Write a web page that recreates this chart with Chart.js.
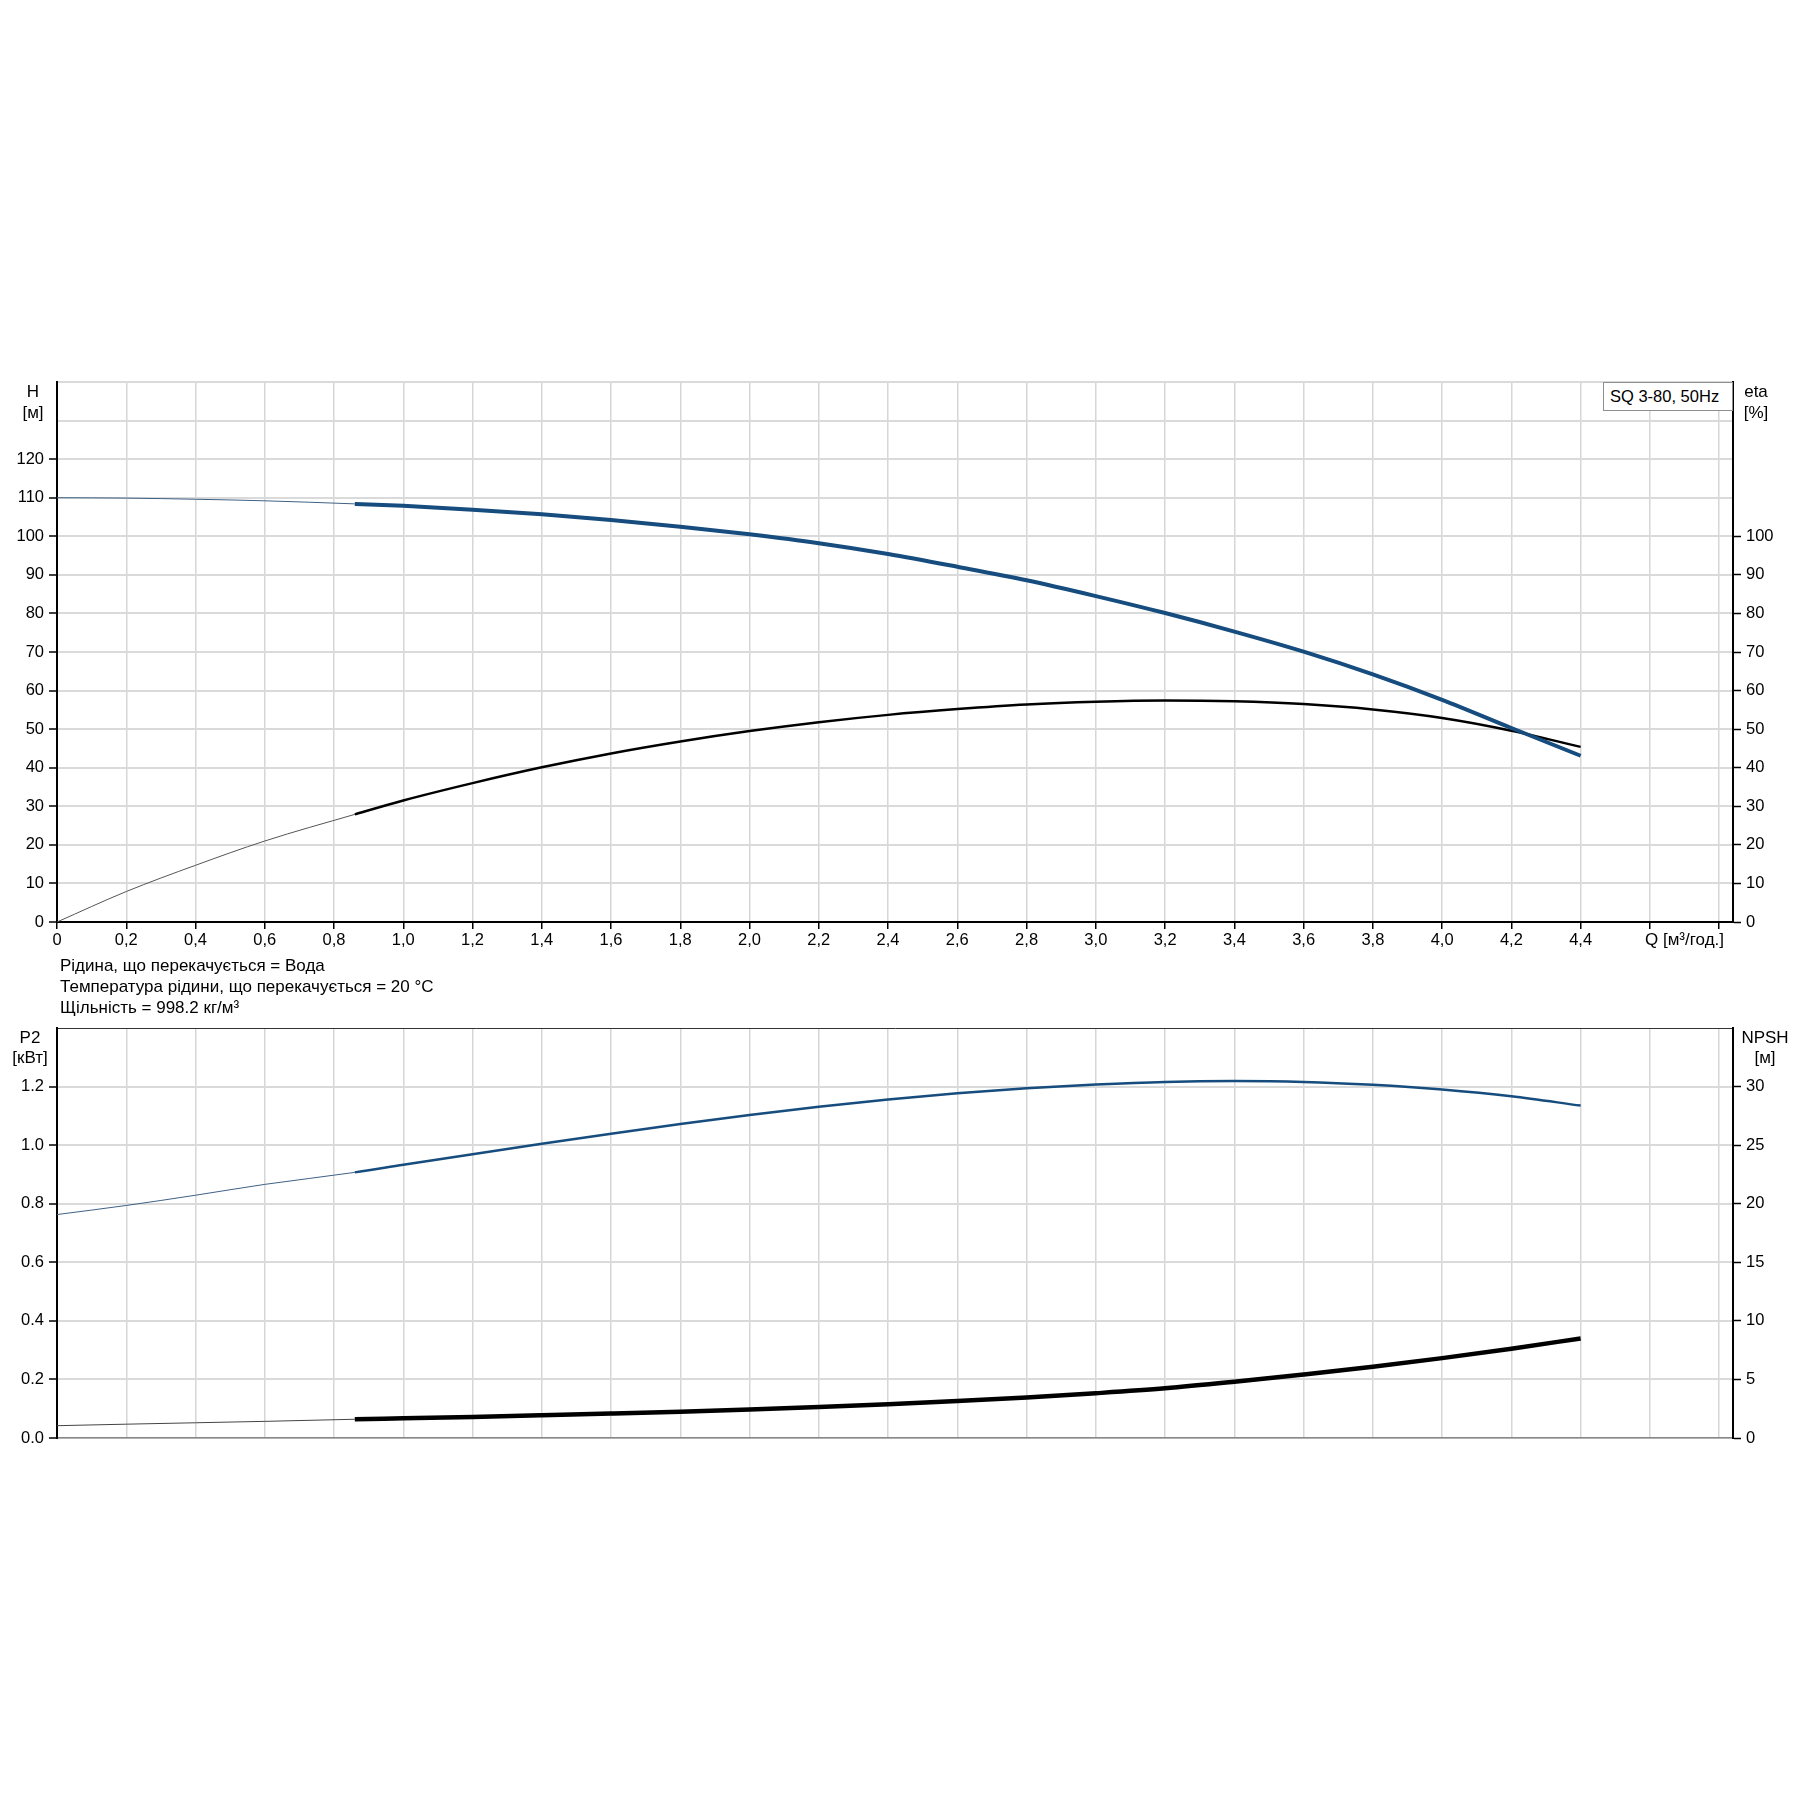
<!DOCTYPE html>
<html>
<head>
<meta charset="utf-8">
<script src="https://cdn.jsdelivr.net/npm/chart.js@4.4.1/dist/chart.umd.min.js"></script>
<style>
  html, body { margin: 0; padding: 0; background: #fff; }
  body { width: 1795px; height: 1795px; position: relative; overflow: hidden;
         font-family: 'Liberation Sans', Arial, sans-serif; color: #000; }
  .wrap { position: absolute; left: 0; width: 1795px; }
  #head-wrap { top: 330px; height: 650px; }
  #power-wrap { top: 980px; height: 500px; }
  .lbl { position: absolute; font-size: 17px; line-height: 20px; white-space: nowrap; z-index: 2; }
  .mid { transform: translateX(-50%); text-align: center; }
  #pump-name { position: absolute; left: 1603px; top: 382px; width: 130px; height: 29px;
               border: 1px solid #8e8e8e; background: #fff; font-size: 16.5px; line-height: 27px;
               padding-left: 6px; box-sizing: border-box; z-index: 2; }
</style>
</head>
<body>
<div class="wrap" id="head-wrap"><canvas id="head-chart" width="1795" height="650"></canvas></div>
<div class="wrap" id="power-wrap"><canvas id="power-chart" width="1795" height="500"></canvas></div>

<div class="lbl mid" style="left:33px; top:382px;">H</div>
<div class="lbl mid" style="left:33px; top:403px;">[м]</div>
<div class="lbl mid" style="left:1756px; top:382px;">eta</div>
<div class="lbl mid" style="left:1756px; top:403px;">[%]</div>
<div id="pump-name">SQ 3-80, 50Hz</div>
<div class="lbl" style="left:1645px; top:930px;">Q [м³/год.]</div>

<div class="lbl" style="left:60px; top:956px;">Рідина, що перекачується = Вода</div>
<div class="lbl" style="left:60px; top:977px;">Температура рідини, що перекачується = 20 °C</div>
<div class="lbl" style="left:60px; top:998px;">Щільність = 998.2 кг/м³</div>

<div class="lbl mid" style="left:30px; top:1028px;">P2</div>
<div class="lbl mid" style="left:30px; top:1048px;">[кВт]</div>
<div class="lbl mid" style="left:1765px; top:1028px;">NPSH</div>
<div class="lbl mid" style="left:1765px; top:1048px;">[м]</div>

<script>
// flow points (m3/h), the duty range starts at thinEnd
const flowQ = [0, 0.2, 0.4, 0.6, 0.86, 1.0, 1.2, 1.4, 1.6, 1.8, 2.0, 2.2, 2.4, 2.6, 2.8, 3.0, 3.2, 3.4, 3.6, 3.8, 4.0, 4.2, 4.4];
const thinEnd = 0.86;

const headH = [110, 109.9, 109.6, 109.2, 108.4, 107.9, 106.9, 105.7, 104.2, 102.5, 100.5, 98.2, 95.4, 92.1, 88.6, 84.5, 80.1, 75.3, 70.1, 64.2, 57.6, 50.3, 43.1];
const etaPct = [0, 7.9, 14.7, 21.0, 27.9, 31.5, 36.0, 40.1, 43.7, 46.8, 49.5, 51.8, 53.7, 55.2, 56.4, 57.1, 57.4, 57.2, 56.5, 55.1, 52.9, 49.6, 45.4];
const powerP2 = [0.763, 0.794, 0.829, 0.866, 0.907, 0.933, 0.969, 1.005, 1.039, 1.072, 1.103, 1.131, 1.156, 1.177, 1.194, 1.207, 1.216, 1.219, 1.216, 1.206, 1.190, 1.167, 1.135];
const npshM = [1.05, 1.18, 1.30, 1.42, 1.60, 1.68, 1.80, 1.94, 2.09, 2.25, 2.43, 2.64, 2.88, 3.15, 3.46, 3.82, 4.24, 4.80, 5.42, 6.08, 6.82, 7.62, 8.5];

// tick values and labels
const qTicks = [0, 0.2, 0.4, 0.6, 0.8, 1.0, 1.2, 1.4, 1.6, 1.8, 2.0, 2.2, 2.4, 2.6, 2.8, 3.0, 3.2, 3.4, 3.6, 3.8, 4.0, 4.2, 4.4, 4.6, 4.8];
const qLabels = ['0', '0,2', '0,4', '0,6', '0,8', '1,0', '1,2', '1,4', '1,6', '1,8', '2,0', '2,2', '2,4', '2,6', '2,8', '3,0', '3,2', '3,4', '3,6', '3,8', '4,0', '4,2', '4,4', '', ''];
const hTicks = [0, 10, 20, 30, 40, 50, 60, 70, 80, 90, 100, 110, 120, 130, 140];
const hLabels = ['0', '10', '20', '30', '40', '50', '60', '70', '80', '90', '100', '110', '120', '', ''];
const etaLabels = ['0', '10', '20', '30', '40', '50', '60', '70', '80', '90', '100', '', '', '', ''];
const p2Ticks = [0, 0.2, 0.4, 0.6, 0.8, 1.0, 1.2, 1.4];
const p2Labels = ['0.0', '0.2', '0.4', '0.6', '0.8', '1.0', '1.2', ''];
const npshTicks = [0, 5, 10, 15, 20, 25, 30, 35];
const npshLabels = ['0', '5', '10', '15', '20', '25', '30', ''];

const BLUE = '#164c7e';
const GRID_H = '#dadada';
const GRID_V = '#d6d6d6';

Chart.defaults.font = { family: "'Liberation Sans', Arial, sans-serif", size: 16.5 };
Chart.defaults.color = '#000';

function points(values) {
    return flowQ.map((q, i) => ({ x: q, y: values[i] }));
}

function curve(values, axis, thinColor, color, width) {
    return {
        data: points(values),
        yAxisID: axis,
        borderColor: color,
        borderWidth: width,
        pointRadius: 0,
        cubicInterpolationMode: 'monotone',
        segment: {
            borderWidth: ctx => ctx.p0.parsed.x < thinEnd ? 1 : width,
            borderColor: ctx => ctx.p0.parsed.x < thinEnd ? thinColor : color
        }
    };
}

function fixedTicks(values) {
    return axis => { axis.ticks = values.map(v => ({ value: v })); };
}

function markColor(labels) {
    return ctx => labels[ctx.index] ? '#000' : 'rgba(0,0,0,0)';
}

const headChart = new Chart(document.getElementById('head-chart'), {
    type: 'line',
    data: {
        datasets: [
            curve(headH, 'h', '#3f6184', BLUE, 4),
            curve(etaPct, 'eta', '#555', '#000', 2.5)
        ]
    },
    options: {
        responsive: false,
        animation: false,
        layout: { padding: { top: 52, left: 0, right: 0, bottom: 0 } },
        plugins: { legend: { display: false }, tooltip: { enabled: false } },
        scales: {
            x: {
                type: 'linear', min: 0, max: 4.84,
                afterBuildTicks: fixedTicks(qTicks),
                afterFit: s => { s.height = 58; },
                border: { color: '#000', width: 2 },
                grid: { color: GRID_V, lineWidth: 1.5, tickLength: 7, tickColor: '#000', tickWidth: 1.5 },
                ticks: { padding: 2, maxRotation: 0, autoSkip: false, callback: (v, i) => qLabels[i] }
            },
            h: {
                type: 'linear', position: 'left', min: 0, max: 140,
                afterBuildTicks: fixedTicks(hTicks),
                afterFit: s => { s.width = 57; },
                border: { color: '#000', width: 2 },
                grid: { color: GRID_H, lineWidth: 2, tickLength: 8, tickColor: markColor(hLabels), tickWidth: 1.5 },
                ticks: { padding: 5, autoSkip: false, callback: (v, i) => hLabels[i] }
            },
            eta: {
                type: 'linear', position: 'right', min: 0, max: 140,
                afterBuildTicks: fixedTicks(hTicks),
                afterFit: s => { s.width = 62; },
                border: { color: '#000', width: 2 },
                grid: { drawOnChartArea: false, tickLength: 8, tickColor: markColor(etaLabels), tickWidth: 1.5 },
                ticks: { padding: 5, autoSkip: false, callback: (v, i) => etaLabels[i] }
            }
        }
    }
});

const powerChart = new Chart(document.getElementById('power-chart'), {
    type: 'line',
    data: {
        datasets: [
            curve(powerP2, 'p2', '#3f6184', BLUE, 2.5),
            curve(npshM, 'npsh', '#444', '#000', 4.5)
        ]
    },
    options: {
        responsive: false,
        animation: false,
        layout: { padding: { top: 48, left: 0, right: 0, bottom: 0 } },
        plugins: { legend: { display: false }, tooltip: { enabled: false } },
        scales: {
            x: {
                type: 'linear', min: 0, max: 4.84,
                afterBuildTicks: fixedTicks(qTicks),
                afterFit: s => { s.height = 42; },
                border: { color: '#888', width: 1.5 },
                grid: { color: GRID_V, lineWidth: 1.5, drawTicks: false },
                ticks: { display: false }
            },
            p2: {
                type: 'linear', position: 'left', min: 0, max: 1.4,
                afterBuildTicks: fixedTicks(p2Ticks),
                afterFit: s => { s.width = 57; },
                border: { color: '#000', width: 2 },
                grid: {
                    color: ctx => ctx.index === p2Ticks.length - 1 ? '#333' : GRID_H,
                    lineWidth: ctx => ctx.index === p2Ticks.length - 1 ? 1 : 2,
                    tickLength: 8, tickColor: markColor(p2Labels), tickWidth: 1.5
                },
                ticks: { padding: 5, autoSkip: false, callback: (v, i) => p2Labels[i] }
            },
            npsh: {
                type: 'linear', position: 'right', min: 0, max: 35,
                afterBuildTicks: fixedTicks(npshTicks),
                afterFit: s => { s.width = 62; },
                border: { color: '#000', width: 2 },
                grid: { drawOnChartArea: false, tickLength: 8, tickColor: markColor(npshLabels), tickWidth: 1.5 },
                ticks: { padding: 5, autoSkip: false, callback: (v, i) => npshLabels[i] }
            }
        }
    }
});
</script>
</body>
</html>
